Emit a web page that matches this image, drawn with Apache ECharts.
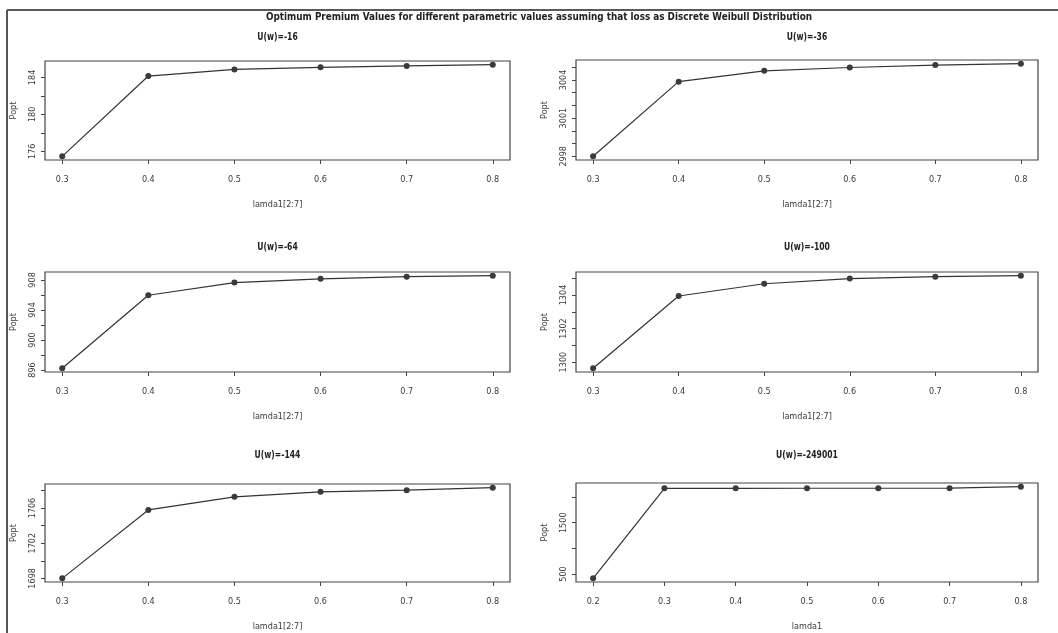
<!DOCTYPE html>
<html>
<head>
<meta charset="utf-8">
<script src="https://cdn.jsdelivr.net/npm/echarts@6/dist/echarts.min.js"></script>
<style>
html,body{margin:0;padding:0;background:#fff;}
#chart{width:1058px;height:633px;}
</style>
</head>
<body>
<div id="chart"></div>
<script>
// ---------- data ----------
const mainTitle = "Optimum Premium Values for different parametric values assuming that loss as Discrete Weibull Distribution";
const panelTitles = ["U(w)=-16", "U(w)=-36", "U(w)=-64", "U(w)=-100", "U(w)=-144", "U(w)=-249001"];
const xNames = ["lamda1[2:7]", "lamda1[2:7]", "lamda1[2:7]", "lamda1[2:7]", "lamda1[2:7]", "lamda1"];
const yName = "Popt";

const lamdaA = [0.3, 0.4, 0.5, 0.6, 0.7, 0.8];
const lamdaB = [0.2, 0.3, 0.4, 0.5, 0.6, 0.7, 0.8];

const popt_u16 = [175.46, 184.15, 184.87, 185.09, 185.24, 185.38];
const popt_u36 = [2998.0, 3003.86, 3004.71, 3004.97, 3005.16, 3005.27];
const popt_u64 = [896.23, 905.96, 907.65, 908.15, 908.43, 908.56];
const popt_u100 = [1299.63, 1303.94, 1304.67, 1304.98, 1305.09, 1305.15];
const popt_u144 = [1698.0, 1705.78, 1707.27, 1707.84, 1708.03, 1708.32];
const popt_u249001 = [416, 2170, 2171, 2172, 2172, 2173, 2203];

const yTicks_u16 = [176, 178, 180, 182, 184];
const yLabels_u16 = [176, 180, 184];
const yTicks_u36 = [2998, 2999, 3000, 3001, 3002, 3003, 3004, 3005];
const yLabels_u36 = [2998, 3001, 3004];
const yTicks_u64 = [896, 898, 900, 902, 904, 906, 908];
const yLabels_u64 = [896, 900, 904, 908];
const yTicks_u100 = [1300, 1301, 1302, 1303, 1304, 1305];
const yLabels_u100 = [1300, 1302, 1304];
const yTicks_u144 = [1698, 1700, 1702, 1704, 1706, 1708];
const yLabels_u144 = [1698, 1702, 1706];
const yTicks_u249001 = [500, 1000, 1500, 2000];
const yLabels_u249001 = [500, 1500];

const xTicksA = [0.3, 0.4, 0.5, 0.6, 0.7, 0.8];
const xTicksB = [0.2, 0.3, 0.4, 0.5, 0.6, 0.7, 0.8];

// ---------- layout ----------
const FONT = "'Liberation Sans Narrow', 'DejaVu Sans Condensed', 'Liberation Sans', sans-serif";
const TXT = '#3a3a3a';
const grids = [
  {left: 45, top: 61, width: 465, height: 99},
  {left: 576, top: 60, width: 462, height: 100},
  {left: 45, top: 272, width: 465, height: 100},
  {left: 576, top: 272, width: 462, height: 100},
  {left: 45, top: 484, width: 465, height: 98},
  {left: 576, top: 483, width: 462, height: 99}
];
const titleY = [37, 37, 247, 247, 455, 455];

const panels = [
  {x: lamdaA, y: popt_u16, yt: yTicks_u16, yl: yLabels_u16, xt: xTicksA},
  {x: lamdaA, y: popt_u36, yt: yTicks_u36, yl: yLabels_u36, xt: xTicksA},
  {x: lamdaA, y: popt_u64, yt: yTicks_u64, yl: yLabels_u64, xt: xTicksA},
  {x: lamdaA, y: popt_u100, yt: yTicks_u100, yl: yLabels_u100, xt: xTicksA},
  {x: lamdaA, y: popt_u144, yt: yTicks_u144, yl: yLabels_u144, xt: xTicksA},
  {x: lamdaB, y: popt_u249001, yt: yTicks_u249001, yl: yLabels_u249001, xt: xTicksB}
];

function ext(arr) {
  const mn = Math.min(...arr), mx = Math.max(...arr);
  const d = (mx - mn) * 0.04;
  return [mn - d, mx + d];
}

const option = {
  backgroundColor: '#fff',
  animation: false,
  grid: grids.map(g => Object.assign({show: true, borderColor: '#444', borderWidth: 1.2, backgroundColor: 'transparent'}, g)),
  xAxis: panels.map((p, i) => {
    const [mn, mx] = ext(p.x);
    return {
      type: 'value', gridIndex: i, min: mn, max: mx,
      axisLine: {show: false},
      splitLine: {show: false},
      axisTick: {show: true, length: 4, lineStyle: {color: '#444'}, customValues: p.xt},
      axisLabel: {show: true, margin: 15, fontSize: 9, color: TXT, fontFamily: FONT,
                  customValues: p.xt, formatter: v => Number(v).toFixed(1)},
      name: xNames[i], nameLocation: 'middle', nameGap: 40,
      nameTextStyle: {fontSize: 9, color: TXT, fontFamily: FONT}
    };
  }),
  yAxis: panels.map((p, i) => {
    const [mn, mx] = ext(p.y);
    return {
      type: 'value', gridIndex: i, min: mn, max: mx,
      axisLine: {show: false},
      splitLine: {show: false},
      axisTick: {show: true, length: 4, lineStyle: {color: '#444'}, customValues: p.yt},
      axisLabel: {show: true, rotate: 90, margin: 8, fontSize: 9, color: TXT, fontFamily: FONT,
                  customValues: p.yl, formatter: v => String(Math.round(v))},
      name: yName, nameLocation: 'middle', nameGap: 27, nameRotate: 90,
      nameTextStyle: {fontSize: 9, color: TXT, fontFamily: FONT}
    };
  }),
  series: panels.map((p, i) => ({
    type: 'line', xAxisIndex: i, yAxisIndex: i,
    data: p.x.map((x, k) => [x, p.y[k]]),
    symbol: 'circle', symbolSize: 6,
    lineStyle: {color: '#333', width: 1.2},
    itemStyle: {color: '#3a3a3a'},
    silent: true
  })),
  graphic: [
    {type: 'line', shape: {x1: 7, y1: 10, x2: 1058, y2: 10}, style: {stroke: '#222', lineWidth: 1.5}},
    {type: 'line', shape: {x1: 7, y1: 10, x2: 7, y2: 633}, style: {stroke: '#555', lineWidth: 2}},
    {type: 'text', x: 539, y: 17, scaleX: 0.895, style: {text: mainTitle, font: 'bold 11px ' + FONT, fill: '#222', align: 'center', verticalAlign: 'middle'}}
  ].concat(grids.map((g, i) => ({
    type: 'text', x: g.left + g.width / 2, y: titleY[i], scaleX: 0.85,
    style: {text: panelTitles[i], font: 'bold 10px ' + FONT, fill: '#222', align: 'center', verticalAlign: 'middle'}
  })))
};

const chart = echarts.init(document.getElementById('chart'), null, {renderer: 'canvas'});
chart.setOption(option);
</script>
</body>
</html>
